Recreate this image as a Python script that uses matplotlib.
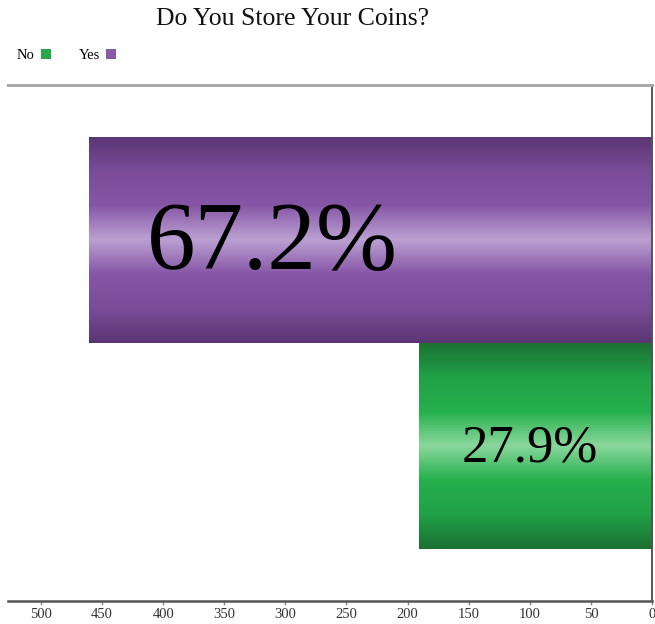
import numpy as np
import matplotlib
matplotlib.use("Agg")
from matplotlib import pyplot as plt
from matplotlib.colors import LinearSegmentedColormap
from matplotlib.patches import Patch

plt.rcParams['font.family'] = ['Liberation Serif', 'DejaVu Serif']

# survey answers (number of responses)
categories = ["No", "Yes"]
counts = [191, 461]
shares = ["27.9%", "67.2%"]
label_x = [100, 311]
label_size = [38, 70]

# shaded bar colours: dark edge -> body -> light centre stripe
shades = {
    "No": ["#1b7032", "#21a148", "#25b04d", "#8ad79c", "#25b04d", "#21a148", "#1b7032"],
    "Yes": ["#5a3572", "#7a4c98", "#8656a6", "#bba0d2", "#8656a6", "#7a4c98", "#5a3572"],
}
legend_colors = {"No": "#26a84b", "Yes": "#8a5aaa"}

fig = plt.figure(figsize=(6.55, 6.24), dpi=100)
ax = fig.add_axes([8/655, 23/624, 644/655, 516/624])

bars = ax.barh(range(len(categories)), counts, height=1.0, color="none", edgecolor="none")

for bar, cat in zip(bars, categories):
    x0, y0 = bar.get_x(), bar.get_y()
    w, h = bar.get_width(), bar.get_height()
    cmap = LinearSegmentedColormap.from_list(cat, shades[cat])
    grad = np.linspace(0, 1, 256).reshape(-1, 1)
    im = ax.imshow(grad, cmap=cmap, aspect="auto", extent=(x0, x0 + w, y0, y0 + h),
                   origin="lower", interpolation="bilinear", zorder=2)
    im.set_clip_path(bar)

for i, (txt, xpos, fs) in enumerate(zip(shares, label_x, label_size)):
    ax.text(xpos, i - 0.03 if i == 1 else i - 0.01, txt, ha="center", va="center",
            fontsize=fs, color="black", zorder=3)

ax.set_xlim(527, 0)
ax.set_ylim(-0.75, 1.75)
ax.set_xticks(np.arange(0, 501, 50))
ax.set_yticks([])

ax.spines['left'].set_visible(False)
ax.spines['top'].set_color("#a8a8a8")
ax.spines['top'].set_linewidth(2.2)
ax.spines['right'].set_color("#555555")
ax.spines['right'].set_linewidth(1.4)
ax.spines['bottom'].set_color("#555555")
ax.spines['bottom'].set_linewidth(1.8)
ax.tick_params(axis='x', length=3, width=1, color="#888888", labelsize=10.5,
               labelcolor="#333333", pad=2)

fig.text(293/655, 1 - 19/624, "Do You Store Your Coins?", ha="center", va="center",
         fontsize=18.5, color="#111111")

handles = [Patch(facecolor=legend_colors[c], edgecolor="none", label=c) for c in categories]
fig.legend(handles=handles, loc="upper left", bbox_to_anchor=(17/655, 1 - 49/624),
           bbox_transform=fig.transFigure, ncol=2, frameon=False, markerfirst=False,
           fontsize=10.5, handlelength=0.7, handleheight=0.7, handletextpad=0.4,
           columnspacing=1.9, borderpad=0, borderaxespad=0)

plt.savefig("out.png", dpi=100)
